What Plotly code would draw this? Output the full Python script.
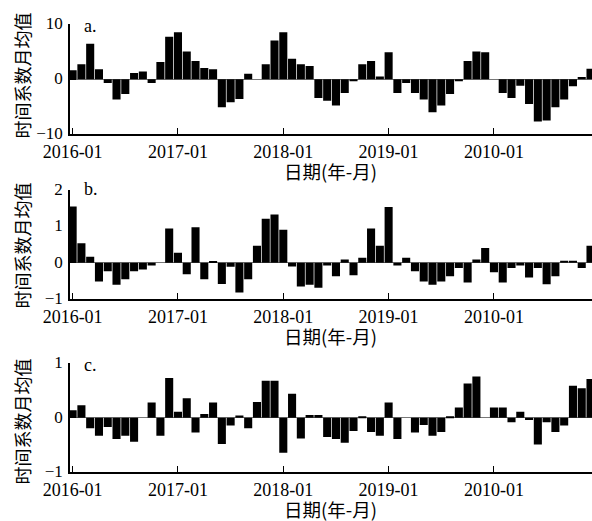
import plotly.graph_objects as go

# ---- data ----
months = [f"{y}-{m:02d}" for y in range(2016, 2021) for m in range(1, 13)]
tick_vals = ["2016-01", "2017-01", "2018-01", "2019-01", "2020-01"]
tick_text = ["2016-01", "2017-01", "2018-01", "2019-01", "2010-01"]

series_a = [1.6, 2.7, 6.4, 1.8, -0.7, -3.7, -2.7, 1.1, 1.4, -0.7, 3.1, 7.7,
            8.5, 5.0, 3.3, 2.0, 1.8, -5.1, -4.2, -3.6, 1.0, 0.0, 2.7, 7.0,
            8.5, 3.7, 2.7, 2.4, -3.4, -3.9, -4.8, -2.5, -0.4, 2.7, 3.3, 0.5,
            4.9, -2.5, -0.7, -2.5, -3.7, -6.0, -4.8, -2.7, -0.4, 3.3, 5.0, 4.9,
            0.0, -2.5, -3.4, -1.2, -4.5, -7.7, -7.5, -5.1, -3.7, -1.3, 0.4, 1.9]

series_b = [1.55, 0.54, 0.17, -0.51, -0.23, -0.60, -0.45, -0.23, -0.18, -0.07, 0.0, 0.94,
            0.28, -0.31, 0.98, -0.45, 0.03, -0.58, -0.11, -0.81, -0.45, 0.47, 1.21, 1.33,
            0.91, -0.10, -0.65, -0.60, -0.68, -0.07, -0.37, 0.09, -0.34, 0.14, 0.94, 0.47,
            1.53, -0.07, 0.14, -0.23, -0.51, -0.60, -0.51, -0.37, -0.14, -0.54, 0.09, 0.41,
            -0.26, -0.54, -0.14, -0.07, -0.40, -0.14, -0.59, -0.37, 0.06, 0.06, -0.14, 0.47]

series_c = [0.14, 0.23, -0.19, -0.33, -0.17, -0.39, -0.33, -0.44, 0.0, 0.28, -0.33, 0.73,
            0.11, 0.36, -0.27, 0.07, 0.28, -0.48, -0.14, 0.04, -0.19, 0.29, 0.68, 0.68,
            -0.64, 0.44, -0.38, 0.05, 0.05, -0.35, -0.39, -0.46, -0.24, 0.02, -0.26, -0.33,
            0.28, -0.39, 0.0, -0.27, -0.13, -0.33, -0.26, 0.02, 0.19, 0.63, 0.76, 0.0,
            0.19, 0.19, -0.08, 0.11, -0.04, -0.49, -0.08, -0.26, -0.14, 0.59, 0.54, 0.71]

panel_labels = ["a.", "b.", "c."]
y_ranges = [[-10, 10], [-1, 2], [-1, 1]]
y_ticks = [[-10, 0, 10], [-1, 0, 1, 2], [-1, 0, 1]]
y_title = "时间系数月均值"
x_title = "日期(年-月)"

# ---- layout geometry (pixels) ----
W, H = 592, 521
panel_px = [(24, 134.3), (190, 299.3), (363.3, 472.3)]
ytitle_center_px = [76, 246, 422]
xtitle_center_px = [171, 336, 509]
label_center_px = [25.5, 189, 365]
x_left_px = 70

def py(v):
    return 1 - v / H

FONT = "Liberation Serif, 'Times New Roman', 'Noto Sans CJK SC', serif"
CJK = "'Noto Sans CJK SC', 'Liberation Serif', serif"

fig = go.Figure()
series = [series_a, series_b, series_c]
annotations = []
for k in range(3):
    sfx = "" if k == 0 else str(k + 1)
    fig.add_trace(go.Bar(
        x=months, y=series[k], xaxis="x" + sfx, yaxis="y" + sfx,
        marker=dict(color="black", line=dict(width=0)),
        showlegend=False,
    ))
    top, bot = panel_px[k]
    fig.layout["xaxis" + sfx] = dict(
        domain=[x_left_px / W, 1], anchor="y" + sfx, type="category",
        range=[-0.3, 59.17], tickmode="array", tickvals=tick_vals, ticktext=tick_text,
        ticks="inside", ticklen=7, tickwidth=1.2, tickcolor="black",
        showline=True, linecolor="black", linewidth=1.5,
        showgrid=False, zeroline=False,
        tickfont=dict(family=FONT, size=18, color="black"),
    )
    fig.layout["yaxis" + sfx] = dict(
        domain=[py(bot), py(top)], anchor="x" + sfx,
        range=y_ranges[k], tickmode="array", tickvals=y_ticks[k],
        ticks="inside", ticklen=6, tickwidth=1.2, tickcolor="black",
        showline=True, linecolor="black", linewidth=1.5,
        showgrid=False, zeroline=True, zerolinecolor="#777", zerolinewidth=1,
        tickfont=dict(family=FONT, size=17, color="black"),
        ticklabelstandoff=2, ticklabelshift=-1,
    )
    annotations.append(dict(
        text=y_title, xref="paper", yref="paper", x=21.5 / W, y=py(ytitle_center_px[k]),
        xanchor="center", yanchor="middle", textangle=-90, showarrow=False,
        font=dict(family=CJK, size=18, color="black"),
    ))
    annotations.append(dict(
        text=x_title, xref="paper", yref="paper", x=330 / W, y=py(xtitle_center_px[k]),
        xanchor="center", yanchor="middle", showarrow=False,
        font=dict(family=CJK, size=18.5, color="black"),
    ))
    annotations.append(dict(
        text=panel_labels[k], xref="paper", yref="paper", x=82 / W, y=py(label_center_px[k]),
        xanchor="left", yanchor="middle", showarrow=False,
        font=dict(family=FONT, size=18, color="black"),
    ))

fig.update_layout(
    width=W, height=H, template="none",
    margin=dict(l=0, r=0, t=0, b=0),
    paper_bgcolor="white", plot_bgcolor="white",
    bargap=0.08, annotations=annotations,
)

fig.write_html("out.html")
